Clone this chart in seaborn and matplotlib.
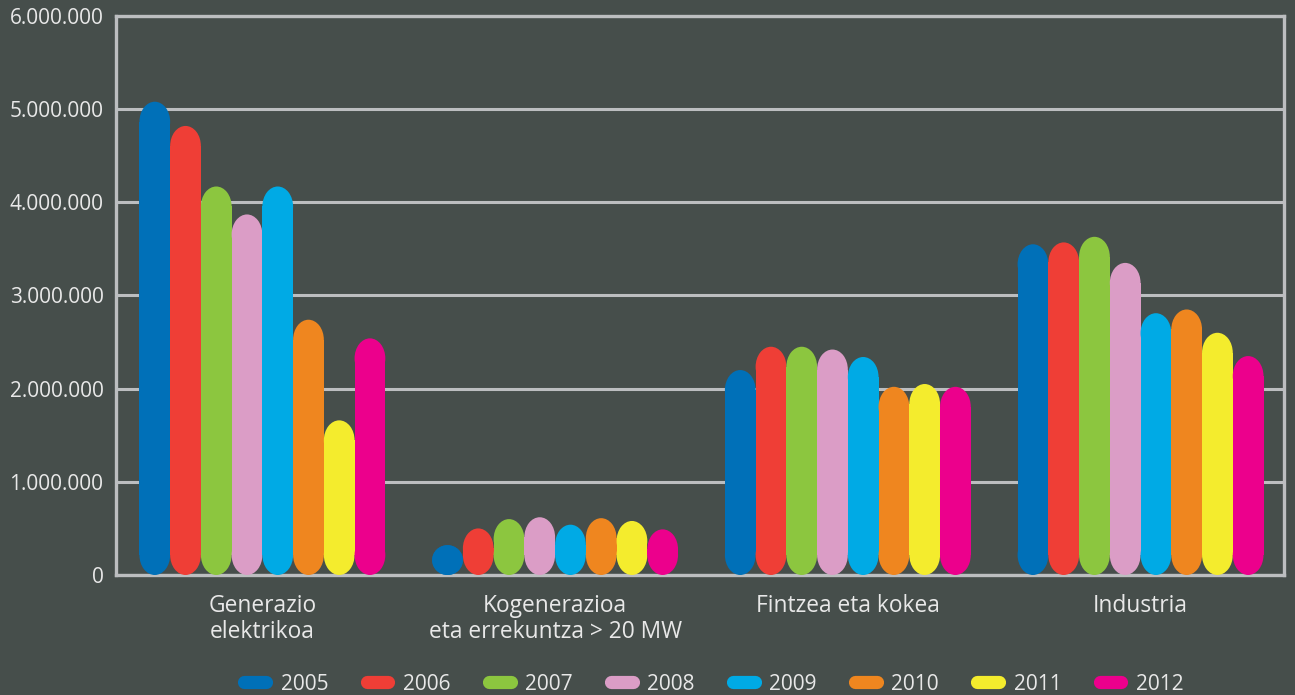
import pandas as pd
import matplotlib.pyplot as plt
import seaborn as sns
from matplotlib.patches import Ellipse, Rectangle
from matplotlib.lines import Line2D
from matplotlib.ticker import FuncFormatter

# categories and yearly values
categories = ["Generazio\nelektrikoa", "Kogenerazioa\neta errekuntza > 20 MW",
              "Fintzea eta kokea", "Industria"]
years = ["2005", "2006", "2007", "2008", "2009", "2010", "2011", "2012"]
colors = ["#0070b8", "#ef3e36", "#8cc63f", "#db9dc6",
          "#00aae5", "#ef861f", "#f4ec2d", "#ec008c"]

v2005 = [5080000, 320000, 2200000, 3550000]
v2006 = [4820000, 500000, 2450000, 3570000]
v2007 = [4170000, 600000, 2450000, 3630000]
v2008 = [3870000, 620000, 2420000, 3350000]
v2009 = [4170000, 540000, 2340000, 2810000]
v2010 = [2740000, 610000, 2020000, 2850000]
v2011 = [1660000, 580000, 2050000, 2600000]
v2012 = [2540000, 490000, 2020000, 2350000]
values = [v2005, v2006, v2007, v2008, v2009, v2010, v2011, v2012]

rows = []
for year, vals in zip(years, values):
    for cat, v in zip(categories, vals):
        rows.append({"kategoria": cat, "urtea": year, "balioa": v})
df = pd.DataFrame(rows)

bg = "#464e4b"
grid_color = "#bcbec0"
text_color = "#e8e8e8"

sns.set_style("dark", {"axes.facecolor": bg, "figure.facecolor": bg})
plt.rcParams["font.family"] = ["Open Sans", "DejaVu Sans"]

fig = plt.figure(figsize=(12.95, 6.95), dpi=100, facecolor=bg)
ax = fig.add_axes([116 / 1295, 1 - 575 / 695, (1284 - 116) / 1295, (575 - 16) / 695])
ax.set_facecolor(bg)

sns.barplot(data=df, x="kategoria", y="balioa", hue="urtea", palette=colors,
            width=0.84, saturation=1, legend=False, ax=ax)

ax.set_xlim(-0.5, 3.49)
ax.set_ylim(0, 6000000)
ax.set_yticks(range(0, 6000001, 1000000))

# turn the rectangles into pills with elliptical caps
ypp = 6000000 / ax.bbox.height
cap = 20 * ypp  # vertical cap radius, ~20 px
for p in list(ax.patches):
    x, w, h = p.get_x(), p.get_width(), p.get_height()
    fc = p.get_facecolor()
    p.remove()
    ry = min(cap, h / 2)
    cx = x + w / 2
    ax.add_patch(Ellipse((cx, ry), w, 2 * ry, fc=fc, ec="none", zorder=3))
    ax.add_patch(Ellipse((cx, h - ry), w, 2 * ry, fc=fc, ec="none", zorder=3))
    if h > 2 * ry:
        ax.add_patch(Rectangle((x, ry), w, h - 2 * ry, fc=fc, ec="none", zorder=3))

ax.set_axisbelow(True)
ax.yaxis.grid(True, color=grid_color, lw=2.2)
ax.xaxis.grid(False)
for s in ax.spines.values():
    s.set_visible(True)
    s.set_color(grid_color)
    s.set_linewidth(2.4)

ax.yaxis.set_major_formatter(FuncFormatter(lambda v, pos: f"{int(v):,}".replace(",", ".")))
ax.tick_params(axis="y", length=0, pad=9, labelsize=15, labelcolor=text_color)
ax.tick_params(axis="x", length=0, pad=14, labelsize=16.4, labelcolor=text_color)
for t in ax.get_xticklabels():
    t.set_linespacing(1.1)
ax.set_xlabel("")
ax.set_ylabel("")

handles = [Line2D([0], [0], color=c, lw=9.5, solid_capstyle="round") for c in colors]
fig.legend(handles, years, loc="center", bbox_to_anchor=(714 / 1295, 11 / 695), ncol=8,
           frameon=False, handlelength=1.05, handletextpad=0.7, columnspacing=1.83,
           fontsize=15, labelcolor=text_color)

fig.savefig("out.png", dpi=100, facecolor=bg)
